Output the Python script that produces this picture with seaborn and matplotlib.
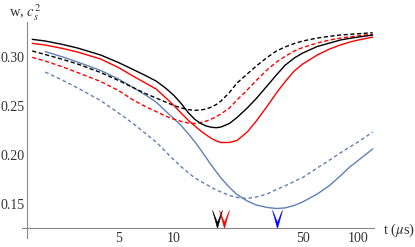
import pandas as pd
import matplotlib
matplotlib.use('Agg')
import matplotlib.pyplot as plt
from matplotlib.path import Path
from matplotlib.ticker import NullFormatter
import seaborn as sns

# time grid (microseconds)
t = [1.7, 2, 2.5, 3, 4, 5, 6, 7, 8, 9, 10, 11, 12, 13, 14, 15, 16, 17, 18,
     20, 22, 25, 28, 32, 36, 40, 45, 50, 60, 70, 80, 90, 100, 120]
t_blue = t[1:]

black_solid = [0.3176, 0.3159, 0.3123, 0.3087, 0.3016, 0.2939, 0.2868, 0.2807, 0.2750, 0.2679,
               0.2603, 0.2516, 0.2424, 0.2358, 0.2317, 0.2291, 0.2278, 0.2274, 0.2281, 0.2317,
               0.2378, 0.2475, 0.2572, 0.2699, 0.2812, 0.2909, 0.2985, 0.3036, 0.3103, 0.3138,
               0.3169, 0.3186, 0.3199, 0.3220]
red_solid = [0.3135, 0.3118, 0.3082, 0.3046, 0.2975, 0.2888, 0.2801, 0.2730, 0.2669, 0.2582,
             0.2500, 0.2419, 0.2347, 0.2291, 0.2240, 0.2199, 0.2164, 0.2138, 0.2123, 0.2123,
             0.2143, 0.2230, 0.2342, 0.2490, 0.2628, 0.2740, 0.2853, 0.2924, 0.3016, 0.3077,
             0.3118, 0.3148, 0.3169, 0.3199]
blue_solid = [0.3051, 0.2995, 0.2944, 0.2858, 0.2771, 0.2684, 0.2608, 0.2536, 0.2444, 0.2368,
              0.2291, 0.2210, 0.2128, 0.2046, 0.1965, 0.1888, 0.1822, 0.1761, 0.1664, 0.1592,
              0.1526, 0.1485, 0.1460, 0.1449, 0.1455, 0.1480, 0.1516, 0.1597, 0.1684, 0.1781,
              0.1873, 0.1939, 0.2057]
black_dashed = [0.3057, 0.3021, 0.2970, 0.2924, 0.2837, 0.2756, 0.2684, 0.2623, 0.2577, 0.2536,
                0.2500, 0.2475, 0.2458, 0.2451, 0.2455, 0.2465, 0.2485, 0.2511, 0.2546, 0.2633,
                0.2730, 0.2822, 0.2904, 0.2990, 0.3057, 0.3097, 0.3133, 0.3159, 0.3189, 0.3207,
                0.3220, 0.3227, 0.3233, 0.3243]
red_dashed = [0.2992, 0.2955, 0.2893, 0.2837, 0.2745, 0.2654, 0.2557, 0.2490, 0.2439, 0.2393,
              0.2360, 0.2337, 0.2322, 0.2317, 0.2327, 0.2342, 0.2363, 0.2388, 0.2414, 0.2475,
              0.2557, 0.2659, 0.2756, 0.2863, 0.2944, 0.3000, 0.3057, 0.3092, 0.3138, 0.3169,
              0.3189, 0.3201, 0.3212, 0.3227]
blue_dashed = [0.2842, 0.2756, 0.2679, 0.2551, 0.2424, 0.2317, 0.2215, 0.2128, 0.2031, 0.1944,
               0.1873, 0.1812, 0.1761, 0.1725, 0.1694, 0.1664, 0.1638, 0.1618, 0.1582, 0.1562,
               0.1551, 0.1567, 0.1597, 0.1643, 0.1679, 0.1725, 0.1766, 0.1863, 0.1944, 0.2016,
               0.2077, 0.2128, 0.2230]

# minimum markers
arrow_t = [17.1, 18.7, 36.3]
arrow_colors = ['black', '#ff0000', '#0000ff']
arrow_level = 0.134

x_major = [5, 10, 50, 100]
x_minor = [2, 3, 4, 6, 7, 8, 9, 20, 30, 40, 60, 70, 80, 90]
y_major = [0.15, 0.20, 0.25, 0.30]
y_minor = [0.13, 0.14, 0.16, 0.17, 0.18, 0.19, 0.21, 0.22, 0.23, 0.24,
           0.26, 0.27, 0.28, 0.29, 0.31, 0.32, 0.33]

mblue = '#5e81b5'

sns.set_style("white")
plt.rcParams['font.family'] = ['Liberation Serif', 'DejaVu Serif']
plt.rcParams['mathtext.fontset'] = 'stix'

fig = plt.figure(figsize=(4.15, 2.47), dpi=100)
ax = fig.add_axes([21.7 / 415, 9 / 247, (374 - 21.7) / 415, (238 - 22) / 247])

curves = [
    (t_blue, blue_solid, mblue, '-'),
    (t_blue, blue_dashed, mblue, (0, (2.6, 2.0))),
    (t, red_dashed, '#ff0000', (0, (3, 1.8))),
    (t, black_dashed, 'black', (0, (3, 1.8))),
    (t, red_solid, '#ff0000', '-'),
    (t, black_solid, 'black', '-'),
]
for xs, ys, col, ls in curves:
    df = pd.DataFrame({'t': xs, 'w': ys})
    sns.lineplot(data=df, x='t', y='w', color=col, linestyle=ls, linewidth=1.0, ax=ax)

vee = Path([(-0.55, 1), (0, -1), (0.55, 1), (0, -0.35), (-0.55, 1)],
           [Path.MOVETO, Path.LINETO, Path.LINETO, Path.LINETO, Path.CLOSEPOLY])
for at, ac in zip(arrow_t, arrow_colors):
    ax.plot([at], [arrow_level], marker=vee, markersize=13, color=ac,
            markeredgewidth=0.4, linestyle='none', clip_on=False)

ax.set_xscale('log')
ax.set_xlim(1.49, 122)
ax.set_ylim(0.1148, 0.3353)
ax.spines['left'].set_position(('data', 1.59))
ax.spines['bottom'].set_position(('data', 0.125))
for s in ['top', 'right']:
    ax.spines[s].set_visible(False)
for s in ['left', 'bottom']:
    ax.spines[s].set_color('#888888')
    ax.spines[s].set_linewidth(0.8)

ax.set_xticks(x_major, labels=[str(v) for v in x_major])
ax.set_xticks(x_minor, minor=True)
ax.xaxis.set_minor_formatter(NullFormatter())
ax.set_yticks(y_major, labels=['%.2f' % v for v in y_major])
ax.set_yticks(y_minor, minor=True)
ax.tick_params(which='major', direction='in', length=4, width=0.7, color='#888888',
               labelsize=10, labelcolor='#333333', pad=1.5)
ax.tick_params(axis='x', which='major', pad=3)
ax.tick_params(which='minor', direction='in', length=2.3, width=0.6, color='#888888')
ax.set_xlabel('')
ax.set_ylabel('')

fig.text(9 / 415, 1 - 17 / 247, r'w, $c_s^2$', fontsize=10.5, color='#333333',
         ha='left', va='baseline')
fig.text(383 / 415, 1 - 234 / 247, r't ($\mu$s)', fontsize=10.5, color='#333333',
         ha='left', va='baseline')

fig.savefig('out.png', dpi=100)
